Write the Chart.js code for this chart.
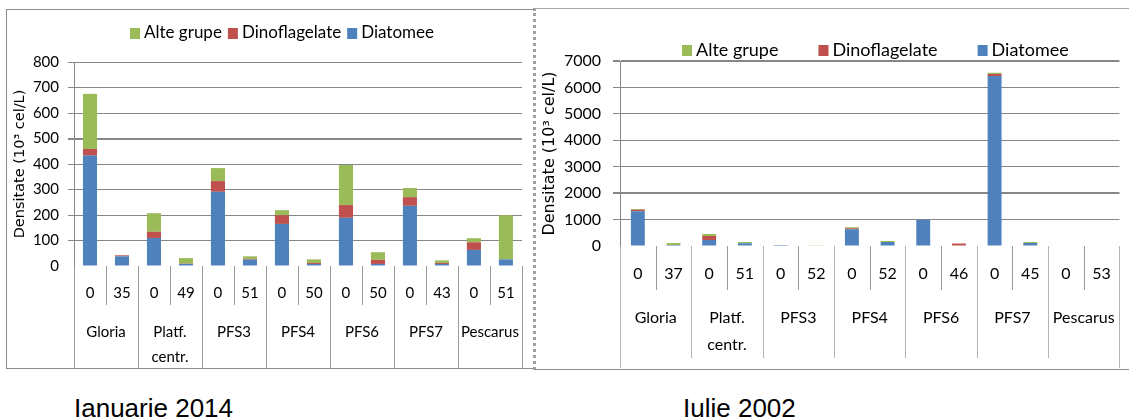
<!DOCTYPE html>
<html>
<head>
<meta charset="utf-8">
<script src="https://cdn.jsdelivr.net/npm/chart.js@4.4.1/dist/chart.umd.min.js"></script>
<style>
  html, body { margin: 0; padding: 0; background: #fff; }
  body { width: 1129px; height: 419px; position: relative; overflow: hidden; }
  .frame { position: absolute; }
  #frameJan { left: 6px; top: 9px; width: 526px; height: 358px; border: 1px solid #8c8c8c; border-right: none; }
  #frameJul { left: 533px; top: 8px; width: 593px; height: 360px; border-top: 1px solid #a6a6a6; border-bottom: 1px solid #8c8c8c; border-left: 3px dotted #a0a0a0; }
  .caption { position: absolute; top: 395px; font: 26px "Liberation Sans", Arial, sans-serif; line-height: 26px; color: #000; white-space: nowrap; }
</style>
</head>
<body>
<div class="frame" id="frameJan"><canvas id="chartJan"></canvas></div>
<div class="frame" id="frameJul"><canvas id="chartJul"></canvas></div>
<div class="caption" style="left:74px">Ianuarie 2014</div>
<div class="caption" style="left:683px">Iulie 2002</div>

<script>
// stations (outer axis level), same for both campaigns
const stations = ['Gloria', ['Platf.', 'centr.'], 'PFS3', 'PFS4', 'PFS6', 'PFS7', 'Pescarus'];

// Ianuarie 2014 - depth (m) per sample and densities (10^3 cel/L)
const depthsJan = ['0', '35', '0', '49', '0', '51', '0', '50', '0', '50', '0', '43', '0', '51'];
const diatJan = [433, 38, 110, 8, 291, 25, 165, 8, 189, 8, 236, 8, 63, 26];
const dinoJan = [26, 4, 24, 1, 42, 3, 34, 4, 50, 16, 34, 4, 30, 0];
const alteJan = [216, 0, 73, 22, 51, 10, 20, 14, 157, 30, 36, 10, 16, 173];
const yTicksJan = { max: 800, step: 100 };

// Iulie 2002
const depthsJul = ['0', '37', '0', '51', '0', '52', '0', '52', '0', '46', '0', '45', '0', '53'];
const diatJul = [1315, 40, 230, 100, 35, 0, 630, 150, 990, 15, 6430, 110, 0, 0];
const dinoJul = [60, 0, 150, 0, 0, 0, 40, 0, 0, 80, 75, 0, 0, 20];
const alteJul = [25, 75, 75, 50, 0, 25, 40, 35, 0, 0, 50, 40, 20, 0];
const yTicksJul = { max: 7000, step: 1000 };

const BLUE = '#4F81BD';
const RED = '#C0504D';
const GREEN = '#9BBB59';
const GRID = '#868686';

// legend in one row, drawn from the datasets (top of the stack first)
const rowLegend = {
    id: 'rowLegend',
    afterDraw(chart, args, o) {
        const ctx = chart.ctx;
        const items = chart.data.datasets.map(d => ({ text: d.label, color: d.backgroundColor })).reverse();
        ctx.save();
        ctx.font = o.size + 'px Lato';
        ctx.textBaseline = 'middle';
        const widths = items.map(it => o.box + o.gap + ctx.measureText(it.text).width);
        const total = widths.reduce((a, b) => a + b, 0) + o.spacing * (items.length - 1);
        let x = Math.round(o.center - total / 2);
        items.forEach((it, i) => {
            ctx.fillStyle = it.color;
            ctx.fillRect(x, Math.round(o.y - o.boxH / 2), o.box, o.boxH);
            ctx.fillStyle = '#000';
            ctx.fillText(it.text, x + o.box + o.gap, o.y);
            x += widths[i] + o.spacing;
        });
        ctx.restore();
    }
};

// two-level category axis: sample separators + station separators and names
const groupAxis = {
    id: 'groupAxis',
    afterDraw(chart, args, o) {
        const { ctx, chartArea, scales: { x } } = chart;
        const n = chart.data.labels.length;
        const step = x.getPixelForValue(1) - x.getPixelForValue(0);
        const h = chart.height;
        ctx.save();
        ctx.lineWidth = 1;
        for (let i = 0; i <= n; i++) {
            const px = Math.round(x.getPixelForValue(i) - step / 2) + 0.5;
            let end;
            if (i === 0 || i === n) end = h - o.edgeCut;
            else if (i % 2 === 0) end = h - o.groupCut;
            else end = chartArea.bottom + o.innerLen;
            ctx.strokeStyle = (i % 2 === 0) ? o.groupColor : o.innerColor;
            ctx.beginPath();
            ctx.moveTo(px, chartArea.bottom);
            ctx.lineTo(px, end);
            ctx.stroke();
        }
        ctx.fillStyle = '#000';
        ctx.font = o.size + 'px Lato';
        ctx.textAlign = 'center';
        ctx.textBaseline = 'middle';
        stations.forEach((name, k) => {
            const cx = (x.getPixelForValue(2 * k) + x.getPixelForValue(2 * k + 1)) / 2;
            const lines = Array.isArray(name) ? name : [name];
            lines.forEach((ln, j) => ctx.fillText(ln, cx, o.labelY + j * o.lineGap));
        });
        ctx.restore();
    }
};

function makeChart(id, depths, diat, dino, alte, yt, c) {
    return new Chart(document.getElementById(id), {
        type: 'bar',
        data: {
            labels: depths,
            datasets: [
                { label: 'Diatomee', data: diat, backgroundColor: BLUE },
                { label: 'Dinoflagelate', data: dino, backgroundColor: RED },
                { label: 'Alte grupe', data: alte, backgroundColor: GREEN }
            ]
        },
        options: {
            responsive: true,
            maintainAspectRatio: false,
            animation: false,
            datasets: { bar: { barPercentage: c.barPct, categoryPercentage: 1 } },
            layout: { padding: { top: c.top, right: c.right, left: 0, bottom: 0 } },
            plugins: {
                legend: { display: false },
                tooltip: { enabled: false },
                rowLegend: c.legend,
                groupAxis: c.axis
            },
            scales: {
                x: {
                    stacked: true,
                    offset: true,
                    grid: { display: false, drawTicks: false },
                    border: { display: false },
                    ticks: {
                        padding: c.xPad, color: '#000', maxRotation: 0, autoSkip: false,
                        font: { family: 'Lato', size: c.tickSize }
                    },
                    afterFit: s => { s.height = c.xHeight; }
                },
                y: {
                    stacked: true,
                    min: 0,
                    max: yt.max,
                    grid: {
                        color: ctx => ctx.tick.value === 0 ? 'rgba(0,0,0,0)' : GRID,
                        lineWidth: ctx => c.thick.includes(ctx.tick.value) ? 2 : 1,
                        tickLength: c.tickLen
                    },
                    border: { color: GRID },
                    ticks: {
                        stepSize: yt.step, padding: c.yPad, color: '#000',
                        font: { family: 'Lato', size: c.tickSize },
                        callback: v => String(v)
                    },
                    title: {
                        display: true,
                        text: 'Densitate (10³ cel/L)',
                        color: '#000',
                        font: { family: 'DejaVu Sans', size: c.titleSize },
                        padding: { top: c.titlePad, bottom: 0 }
                    },
                    afterFit: s => { s.width = c.yWidth; }
                }
            }
        },
        plugins: [rowLegend, groupAxis]
    });
}

makeChart('chartJan', depthsJan, diatJan, dinoJan, alteJan, yTicksJan, {
    barPct: 0.44, top: 52, right: 11, xHeight: 102, yWidth: 67, xPad: 18, yPad: 9, tickLen: 6,
    tickSize: 15, titleSize: 14.5, titlePad: 5, thick: [500],
    legend: { size: 17, box: 10, boxH: 11, gap: 4, spacing: 6, center: 275, y: 23 },
    axis: { innerLen: 39, groupCut: 0, edgeCut: 0, labelY: 322, lineGap: 25, size: 15,
            innerColor: '#9a9a9a', groupColor: '#9a9a9a' }
});

makeChart('chartJul', depthsJul, diatJul, dinoJul, alteJul, yTicksJul, {
    barPct: 0.39, top: 52, right: 3, xHeight: 123, yWidth: 84, xPad: 18, yPad: 12, tickLen: 7,
    tickSize: 16, titleSize: 16, titlePad: 4, thick: [7000, 2000],
    legend: { size: 18, box: 10, boxH: 11, gap: 4, spacing: 40, center: 339, y: 41 },
    axis: { innerLen: 44, groupCut: 11, edgeCut: 1, labelY: 309, lineGap: 27, size: 16,
            innerColor: '#9a9a9a', groupColor: '#b4b4b4' }
});
</script>
</body>
</html>
